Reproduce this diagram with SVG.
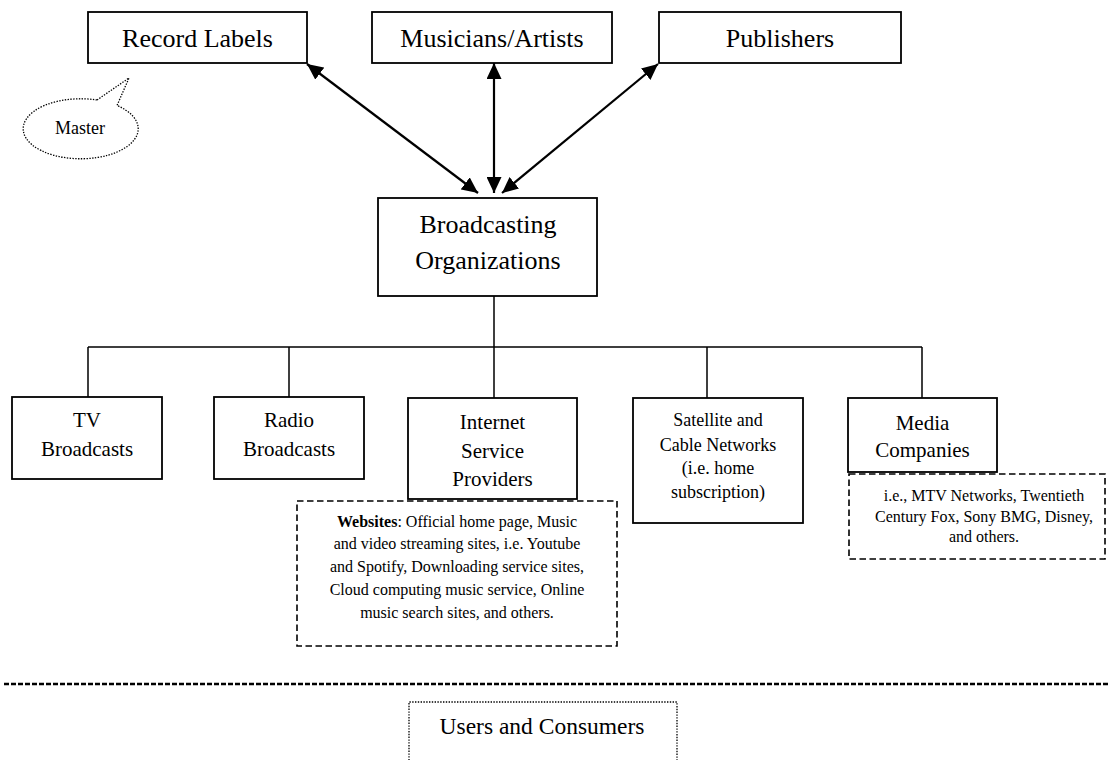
<svg xmlns="http://www.w3.org/2000/svg" width="1112" height="760" viewBox="0 0 1112 760">
  <style>
    text { font-family: "Liberation Serif", "Times New Roman", serif; fill: #000; text-anchor: middle; }
    .box { fill: #fff; stroke: #000; stroke-width: 1.8; }
    .dash { fill: none; stroke: #000; stroke-width: 1.6; stroke-dasharray: 6.5 3.5; }
    .dot { fill: none; stroke: #000; stroke-width: 1.3; stroke-dasharray: 1.4 1.4; }
    .tree { fill: none; stroke: #000; stroke-width: 1.5; }
    .arrow { fill: none; stroke: #000; stroke-width: 2.2; marker-start: url(#head); marker-end: url(#head); }
    .t26 { font-size: 26px; }
    .t21 { font-size: 21px; }
    .t18 { font-size: 18px; }
    .t16 { font-size: 16px; }
    .t23 { font-size: 23.5px; }
  </style>
  <defs>
    <marker id="head" markerUnits="userSpaceOnUse" markerWidth="17" markerHeight="15" refX="16" refY="7.5" orient="auto-start-reverse">
      <path d="M0,0 L16,7.5 L0,15 z" fill="#000"/>
    </marker>
  </defs>

  <rect width="1112" height="760" fill="#fff"/>

  <!-- connectors -->
  <g id="connectors">
    <line class="arrow" x1="307" y1="64" x2="478" y2="193"/>
    <line class="arrow" x1="494" y1="63" x2="494" y2="193"/>
    <line class="arrow" x1="658" y1="64" x2="502" y2="193"/>
    <path class="tree" d="M494,296 V347 M88,347 H922 M88,347 V397 M289,347 V397 M494,347 V398 M707,347 V398 M922,347 V398"/>
  </g>

  <!-- top row -->
  <g id="record-labels">
    <rect class="box" x="88" y="12" width="219" height="51"/>
    <text class="t26" x="197.5" y="47">Record Labels</text>
  </g>
  <g id="master-note">
    <path class="dot" d="M97,100 L129,78 L117,105.5 A57.5 30 0 1 1 97,100 Z"/>
    <text class="t18" x="80" y="134">Master</text>
  </g>
  <g id="musicians">
    <rect class="box" x="372" y="12" width="240" height="51"/>
    <text class="t26" x="492" y="47">Musicians/Artists</text>
  </g>
  <g id="publishers">
    <rect class="box" x="659" y="12" width="242" height="51"/>
    <text class="t26" x="780" y="47">Publishers</text>
  </g>

  <!-- centre -->
  <g id="broadcasting">
    <rect class="box" x="378" y="198" width="219" height="98"/>
    <text class="t26" x="488" y="233">Broadcasting</text>
    <text class="t26" x="488" y="269">Organizations</text>
  </g>

  <!-- second row -->
  <g id="tv">
    <rect class="box" x="12" y="397" width="150" height="82"/>
    <text class="t21" x="87" y="427">TV</text>
    <text class="t21" x="87" y="456">Broadcasts</text>
  </g>
  <g id="radio">
    <rect class="box" x="214" y="397" width="150" height="82"/>
    <text class="t21" x="289" y="427">Radio</text>
    <text class="t21" x="289" y="456">Broadcasts</text>
  </g>
  <g id="isp">
    <rect class="box" x="408" y="398" width="169" height="101"/>
    <text class="t21" x="492.5" y="429">Internet</text>
    <text class="t21" x="492.5" y="458">Service</text>
    <text class="t21" x="492.5" y="486">Providers</text>
  </g>
  <g id="websites-note">
    <rect class="dash" x="297" y="501" width="320" height="145"/>
    <text class="t16" x="457" y="527"><tspan font-weight="bold">Websites</tspan>: Official home page, Music</text>
    <text class="t16" x="457" y="549">and video streaming sites, i.e. Youtube</text>
    <text class="t16" x="457" y="572">and Spotify, Downloading service sites,</text>
    <text class="t16" x="457" y="595">Cloud computing music service, Online</text>
    <text class="t16" x="457" y="618">music search sites, and others.</text>
  </g>
  <g id="satellite">
    <rect class="box" x="633" y="398" width="170" height="125"/>
    <text class="t18" x="718" y="426">Satellite and</text>
    <text class="t18" x="718" y="451">Cable Networks</text>
    <text class="t18" x="718" y="474">(i.e. home</text>
    <text class="t18" x="718" y="498">subscription)</text>
  </g>
  <g id="media">
    <rect class="box" x="848" y="398" width="149" height="74"/>
    <text class="t21" x="922.5" y="430">Media</text>
    <text class="t21" x="922.5" y="457">Companies</text>
  </g>
  <g id="media-note">
    <rect class="dash" x="849" y="474" width="256" height="85"/>
    <text class="t16" x="984" y="501">i.e., MTV Networks, Twentieth</text>
    <text class="t16" x="984" y="522">Century Fox, Sony BMG, Disney,</text>
    <text class="t16" x="984" y="542">and others.</text>
  </g>

  <!-- divider and users -->
  <line x1="4" y1="684" x2="1110" y2="684" stroke="#000" stroke-width="2.6" stroke-dasharray="5 2"/>
  <g id="users">
    <path class="dot" d="M409,766 V702 H677 V766"/>
    <text class="t23" x="542" y="734">Users and Consumers</text>
  </g>
</svg>
